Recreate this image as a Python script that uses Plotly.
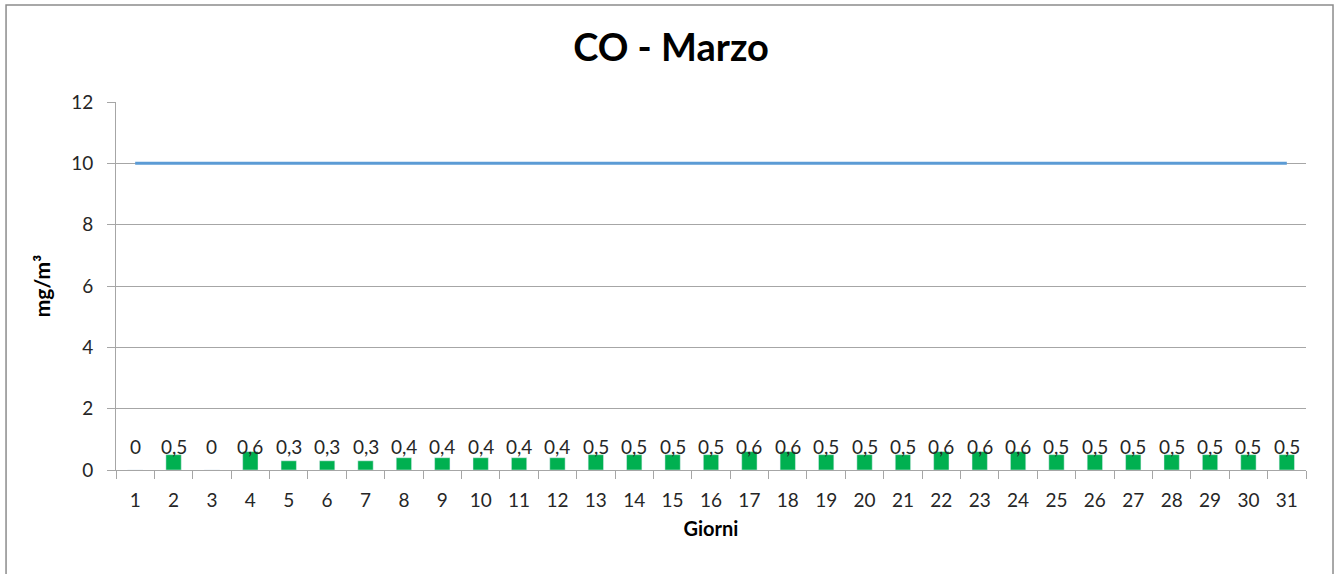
import plotly.graph_objects as go

giorni = [str(i) for i in range(1, 32)]
co_values = [0, 0.5, 0, 0.6, 0.3, 0.3, 0.3, 0.4, 0.4, 0.4, 0.4, 0.4, 0.5, 0.5, 0.5, 0.5,
             0.6, 0.6, 0.5, 0.5, 0.5, 0.6, 0.6, 0.6, 0.5, 0.5, 0.5, 0.5, 0.5, 0.5, 0.5]
limite = [10] * 31

FONT = "Lato, 'Open Sans', sans-serif"
GRID = "#a6a6a6"
TXT = "#262626"

fig = go.Figure()
fig.add_trace(go.Bar(x=giorni, y=co_values, marker_color="#00b050", width=0.4,
                     showlegend=False, hoverinfo="x+y"))
fig.add_trace(go.Scatter(x=giorni, y=limite, mode="lines",
                         line=dict(color="#5b9bd5", width=3), showlegend=False))

for i, v in enumerate(co_values):
    fig.add_annotation(x=i, y=0, yshift=24, text=f"{v:g}".replace(".", ","),
                       showarrow=False, font=dict(family=FONT, size=19, color=TXT))

fig.update_layout(
    width=1338, height=574,
    margin=dict(l=116, r=32, t=102, b=104),
    paper_bgcolor="white", plot_bgcolor="white",
    title=dict(text="<b>CO - Marzo</b>", x=671 / 1338, xanchor="center",
               y=1 - 48 / 574, yanchor="middle",
               font=dict(family=FONT, size=38, color="#000000")),
    xaxis=dict(type="category", tickson="boundaries", ticks="outside", ticklen=8,
               tickcolor=GRID, showline=True, linecolor=GRID, linewidth=1,
               showgrid=False, ticklabelstandoff=13,
               tickfont=dict(family=FONT, size=19, color=TXT),
               title=dict(text="<b>Giorni</b>", font=dict(family=FONT, size=20, color="#000"),
                          standoff=12)),
    yaxis=dict(range=[0, 12], dtick=2, ticks="outside", ticklen=8, tickcolor=GRID,
               showline=True, linecolor=GRID, gridcolor=GRID, gridwidth=1, zeroline=False,
               ticklabelstandoff=10,
               tickfont=dict(family=FONT, size=19, color=TXT),
               title=dict(text="<b>mg/m³</b>", font=dict(family=FONT, size=21, color="#000"),
                          standoff=14)),
    shapes=[dict(type="rect", xref="paper", yref="paper", x0=-0.0924, x1=1.0227,
                 y0=-0.35, y1=1.2636, line=dict(color="#8c8c8c", width=1.5))],
)

fig.write_html("out.html", config={"displayModeBar": False},
               post_script="document.body.style.margin='0';")
